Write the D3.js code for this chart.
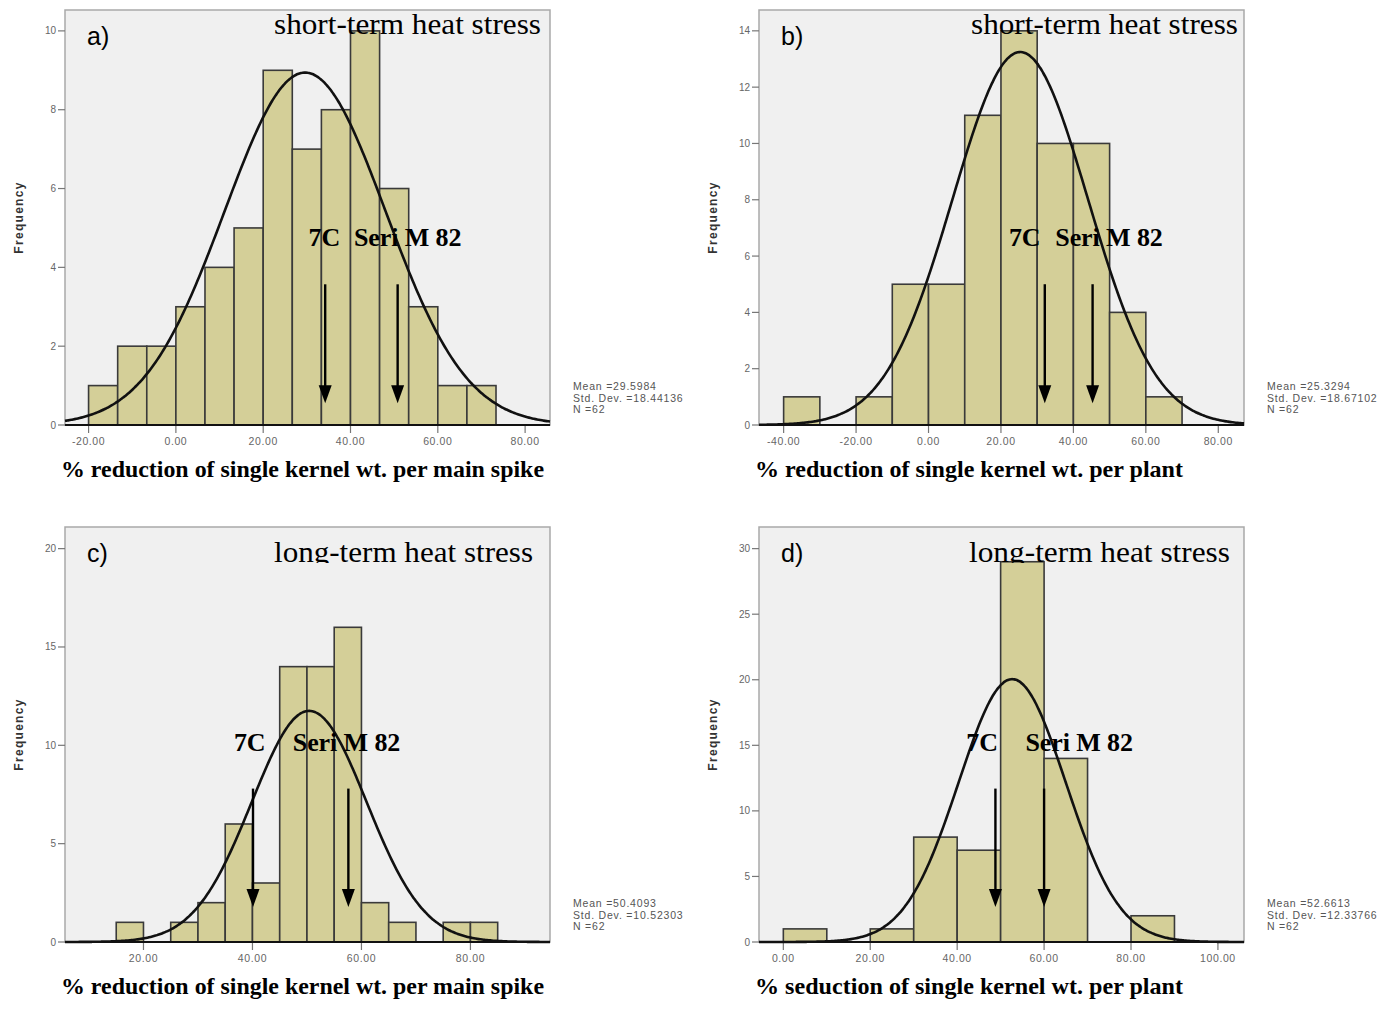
<!DOCTYPE html>
<html>
<head>
<meta charset="utf-8">
<script src="https://cdn.jsdelivr.net/npm/d3@7"></script>
<style>
  body { margin: 0; background: #fff; }
  svg { display: block; }
</style>
</head>
<body>
<div id="chart"></div>
<script>
// Histogram counts (N = 62 each)
const countsA = [1, 2, 2, 3, 4, 5, 9, 7, 8, 10, 6, 3, 1, 1];
const binsA = { start: -20, width: 20 / 3 };
const countsB = [1, 0, 1, 5, 5, 11, 14, 10, 10, 4, 1];
const binsB = { start: -40, width: 10 };
const countsC = [1, 0, 1, 2, 6, 3, 14, 14, 16, 2, 1, 0, 1, 1];
const binsC = { start: 15, width: 5 };
const countsD = [1, 0, 1, 8, 7, 29, 14, 0, 2];
const binsD = { start: 0, width: 10 };

// Stats printed next to each panel
const means = [29.5984, 25.3294, 50.4093, 52.6613];
const stdDevs = [18.44136, 18.67102, 10.52303, 12.33766];
const nObs = [62, 62, 62, 62];

// Arrow positions (7C, Seri M 82) on the x scale
const arrowsA = [34.2, 50.8];
const arrowsB = [32.1, 45.3];
const arrowsC = [40.1, 57.6];
const arrowsD = [48.8, 60.0];

// Tick values
const xTicksA = [-20, 0, 20, 40, 60, 80];
const yTicksA = [0, 2, 4, 6, 8, 10];
const xTicksB = [-40, -20, 0, 20, 40, 60, 80];
const yTicksB = [0, 2, 4, 6, 8, 10, 12, 14];
const xTicksC = [20, 40, 60, 80];
const yTicksC = [0, 5, 10, 15, 20];
const xTicksD = [0, 20, 40, 60, 80, 100];
const yTicksD = [0, 5, 10, 15, 20, 25, 30];

const panelTags = ['a)', 'b)', 'c)', 'd)'];
const stressTitles = ['short-term heat stress', 'short-term heat stress', 'long-term heat stress', 'long-term heat stress'];
const xTitles = [
  '% reduction of single kernel wt. per main spike',
  '% reduction of single kernel wt. per plant',
  '% reduction of single kernel wt. per main spike',
  '% seduction of single kernel wt. per plant'
];

// layout of the four panels
const panels = [
  { counts: countsA, bins: binsA, arrows: arrowsA, xTicks: xTicksA, yTicks: yTicksA,
    x: 65, y: 10, xDomain: [-25.4, 85.7], yMax: 10.53, arrowY: [3.57, 0.55], labelX: [30.4, 40.8],
    titleW: 483, stressW: 267, stressRight: 476, clipTitle: false },
  { counts: countsB, bins: binsB, arrows: arrowsB, xTicks: xTicksB, yTicks: yTicksB,
    x: 759, y: 10, xDomain: [-46.8, 87.1], yMax: 14.74, arrowY: [5.0, 0.77], labelX: [22.2, 35.0],
    titleW: 428, stressW: 267, stressRight: 479, clipTitle: false },
  { counts: countsC, bins: binsC, arrows: arrowsC, xTicks: xTicksC, yTicks: yTicksC,
    x: 65, y: 527, xDomain: [5.6, 94.6], yMax: 21.1, arrowY: [7.8, 1.78], labelX: [36.6, 47.4],
    titleW: 483, stressW: 259, stressRight: 468, clipTitle: true },
  { counts: countsD, bins: binsD, arrows: arrowsD, xTicks: xTicksD, yTicks: yTicksD,
    x: 759, y: 527, xDomain: [-5.6, 106], yMax: 31.65, arrowY: [11.7, 2.67], labelX: [42.1, 55.7],
    titleW: 428, stressW: 261, stressRight: 471, clipTitle: true }
];

const boxW = 485, boxH = 415;
const barFill = '#d4cf98';

const svg = d3.select('#chart').append('svg')
  .attr('width', 1387)
  .attr('height', 1016);

const defs = svg.append('defs');

panels.forEach((p, i) => {
  const x = d3.scaleLinear().domain(p.xDomain).range([0, boxW]);
  const y = d3.scaleLinear().domain([0, p.yMax]).range([boxH, 0]);

  const g = svg.append('g').attr('transform', `translate(${p.x},${p.y})`);

  // plot background and frame
  g.append('rect')
    .attr('width', boxW).attr('height', boxH)
    .attr('fill', '#f0f0f0')
    .attr('stroke', '#a9a9a9')
    .attr('stroke-width', 1.5);

  // y ticks
  p.yTicks.forEach(t => {
    g.append('line')
      .attr('x1', -7).attr('x2', 0)
      .attr('y1', y(t)).attr('y2', y(t))
      .attr('stroke', '#777').attr('stroke-width', 1.2);
    g.append('text')
      .attr('x', -9).attr('y', y(t) + 3.5)
      .attr('text-anchor', 'end')
      .attr('font-family', 'Liberation Sans, Arial, sans-serif')
      .attr('font-size', 10)
      .attr('fill', '#666')
      .text(t);
  });

  // x ticks
  p.xTicks.forEach(t => {
    g.append('line')
      .attr('x1', x(t)).attr('x2', x(t))
      .attr('y1', boxH).attr('y2', boxH + 8)
      .attr('stroke', '#777').attr('stroke-width', 1.2);
    g.append('text')
      .attr('x', x(t)).attr('y', boxH + 19.5)
      .attr('text-anchor', 'middle')
      .attr('font-family', 'Liberation Sans, Arial, sans-serif')
      .attr('font-size', 10.5)
      .attr('letter-spacing', 0.6)
      .attr('fill', '#666')
      .text(t.toFixed(2));
  });

  // histogram bars
  const bars = p.counts.map((c, k) => ({
    x0: p.bins.start + k * p.bins.width,
    x1: p.bins.start + (k + 1) * p.bins.width,
    count: c
  })).filter(d => d.count > 0);

  g.selectAll('.bar')
    .data(bars)
    .enter()
    .append('rect')
    .attr('class', 'bar')
    .attr('x', d => x(d.x0))
    .attr('y', d => y(d.count))
    .attr('width', d => x(d.x1) - x(d.x0))
    .attr('height', d => boxH - y(d.count))
    .attr('fill', barFill)
    .attr('stroke', '#3a3a3a')
    .attr('stroke-width', 1.6);

  // fitted normal curve from the printed mean / sd / N
  const mu = means[i], sd = stdDevs[i];
  const scaleN = nObs[i] * p.bins.width / (sd * Math.sqrt(2 * Math.PI));
  const xs = d3.range(p.xDomain[0], p.xDomain[1] + 0.01, (p.xDomain[1] - p.xDomain[0]) / 300);
  const line = d3.line()
    .x(v => x(v))
    .y(v => y(scaleN * Math.exp(-0.5 * Math.pow((v - mu) / sd, 2))))
    .curve(d3.curveBasis);
  g.append('path')
    .datum(xs)
    .attr('d', line)
    .attr('fill', 'none')
    .attr('stroke', '#111')
    .attr('stroke-width', 2.6);

  // x axis baseline
  g.append('line')
    .attr('x1', 0).attr('x2', boxW)
    .attr('y1', boxH).attr('y2', boxH)
    .attr('stroke', '#111').attr('stroke-width', 2);

  // Frequency label
  g.append('text')
    .attr('transform', `translate(-42,${boxH / 2}) rotate(-90)`)
    .attr('text-anchor', 'middle')
    .attr('font-family', 'Liberation Sans, Arial, sans-serif')
    .attr('font-weight', 'bold')
    .attr('font-size', 12)
    .attr('letter-spacing', 1.3)
    .attr('fill', '#333')
    .text('Frequency');

  // stats box
  const statLines = [
    `Mean =${means[i]}`,
    `Std. Dev. =${stdDevs[i]}`,
    `N =${nObs[i]}`
  ];
  const statClip = 'statclip' + i;
  defs.append('clipPath').attr('id', statClip)
    .append('rect')
    .attr('x', p.x + boxW).attr('y', p.y)
    .attr('width', (p.x < 400 ? 683 : 1387) - (p.x + boxW))
    .attr('height', boxH);
  const st = svg.append('g').attr('clip-path', `url(#${statClip})`);
  statLines.forEach((s, k) => {
    st.append('text')
      .attr('x', p.x + boxW + 23)
      .attr('y', p.y + boxH - 35 + k * 11.5)
      .attr('font-family', 'Liberation Sans, Arial, sans-serif')
      .attr('font-size', 10.5)
      .attr('letter-spacing', 0.8)
      .attr('fill', '#555')
      .text(s);
  });

  // arrows for the two cultivars
  const headLen = 18, headHalf = 6.5;
  p.arrows.forEach(a => {
    const ax = x(a), top = y(p.arrowY[0]), tip = y(p.arrowY[1]);
    g.append('line')
      .attr('x1', ax).attr('x2', ax)
      .attr('y1', top).attr('y2', tip - headLen + 2)
      .attr('stroke', '#000')
      .attr('stroke-width', 2.4);
    g.append('path')
      .attr('d', `M${ax - headHalf},${tip - headLen} L${ax + headHalf},${tip - headLen} L${ax},${tip} Z`)
      .attr('fill', '#000');
  });

  // cultivar labels
  const labelY = y(p.arrowY[0]) - 38;
  ['7C', 'Seri M 82'].forEach((lab, k) => {
    g.append('text')
      .attr('x', x(p.labelX[k]))
      .attr('y', labelY)
      .attr('font-family', 'Liberation Serif, Times New Roman, serif')
      .attr('font-weight', 'bold')
      .attr('font-size', 26)
      .attr('letter-spacing', -0.1)
      .attr('fill', '#000')
      .text(lab);
  });

  // panel tag
  g.append('text')
    .attr('x', 22).attr('y', 35)
    .attr('font-family', 'Liberation Sans, Arial, sans-serif')
    .attr('font-size', 25)
    .attr('fill', '#000')
    .text(panelTags[i]);

  // stress title (top right)
  const tt = g.append('g');
  if (p.clipTitle) {
    const cid = 'titleclip' + i;
    defs.append('clipPath').attr('id', cid)
      .append('rect')
      .attr('x', 150).attr('y', 0)
      .attr('width', boxW).attr('height', 36);
    tt.attr('clip-path', `url(#${cid})`);
  }
  tt.append('text')
    .attr('x', p.stressRight - p.stressW)
    .attr('y', p.clipTitle ? 35 : 24)
    .attr('font-family', 'Liberation Serif, Times New Roman, serif')
    .attr('font-size', 30)
    .attr('textLength', p.stressW)
    .attr('lengthAdjust', 'spacingAndGlyphs')
    .attr('fill', '#000')
    .text(stressTitles[i]);

  // x axis title (bold, below)
  g.append('text')
    .attr('x', -4)
    .attr('y', boxH + 52)
    .attr('font-family', 'Liberation Serif, Times New Roman, serif')
    .attr('font-weight', 'bold')
    .attr('font-size', 23)
    .attr('textLength', p.titleW)
    .attr('lengthAdjust', 'spacingAndGlyphs')
    .attr('fill', '#000')
    .text(xTitles[i]);
});
</script>
</body>
</html>
